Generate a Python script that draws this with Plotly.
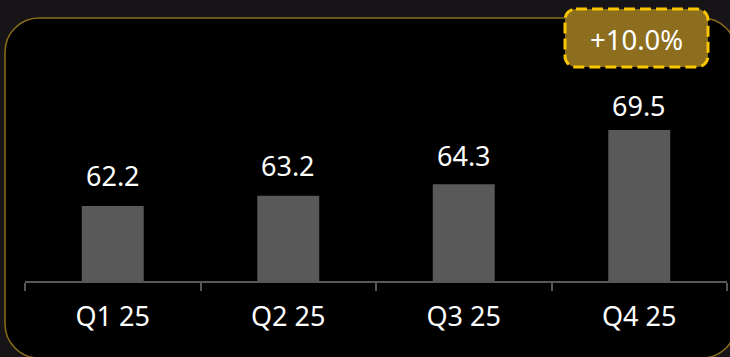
import plotly.graph_objects as go

categories = ["Q1 25", "Q2 25", "Q3 25", "Q4 25"]
values = [62.2, 63.2, 64.3, 69.5]
badge_text = "+10.0%"

W, H = 730, 357
def px(x):
    return x / W
def py(y):
    return 1 - y / H

def rounded_path(x0, y0, x1, y1, r):
    k = 0.5523 * r
    def P(x, y):
        return f"{px(x):.5f},{py(y):.5f}"
    d = (f"M {P(x0 + r, y0)} L {P(x1 - r, y0)} "
         f"C {P(x1 - r + k, y0)} {P(x1, y0 + r - k)} {P(x1, y0 + r)} "
         f"L {P(x1, y1 - r)} "
         f"C {P(x1, y1 - r + k)} {P(x1 - r + k, y1)} {P(x1 - r, y1)} "
         f"L {P(x0 + r, y1)} "
         f"C {P(x0 + r - k, y1)} {P(x0, y1 - r + k)} {P(x0, y1 - r)} "
         f"L {P(x0, y0 + r)} "
         f"C {P(x0, y0 + r - k)} {P(x0 + r - k, y0)} {P(x0 + r, y0)} Z")
    return d

FONT = "Noto Sans, Open Sans, sans-serif"

fig = go.Figure()
fig.add_trace(go.Bar(
    x=categories, y=values,
    marker=dict(color="#595959", line=dict(width=0)),
    hoverinfo="skip",
))
# invisible helper trace so the label axis (y2) exists
fig.add_trace(go.Scatter(
    x=categories, y=values, yaxis="y2", mode="markers",
    marker=dict(opacity=0, size=1), hoverinfo="skip",
))

annotations = []
for c, v in zip(categories, values):
    annotations.append(dict(
        x=c, y=v, xref="x", yref="y2", text=f"{v:.1f}", showarrow=False,
        yanchor="bottom",
        font=dict(family=FONT, size=27, color="#ffffff"),
    ))
annotations.append(dict(
    x=px(636), y=py(39), xref="paper", yref="paper", text=badge_text,
    showarrow=False, xanchor="center", yanchor="middle",
    font=dict(family=FONT, size=27.5, color="#ffffff"),
))

shapes = [
    dict(type="path", xref="paper", yref="paper", layer="below",
         path=rounded_path(5, 18, 736, 358, 34),
         fillcolor="#000000", line=dict(color="#8a6d1c", width=1.5)),
    dict(type="path", xref="paper", yref="paper", layer="above",
         path=rounded_path(565, 9, 708, 67, 11),
         fillcolor="#8c6e1e", line=dict(color="#f7c600", width=3, dash="11px,5px")),
]

y_bottom_px, y_top_px = 281, 18
scale = 10.41
y0 = 55.0
y1 = y0 + (y_bottom_px - y_top_px) / scale

label_scale = 9.6
label_c = 793.1
l0 = (label_c - y_bottom_px) / label_scale
l1 = (label_c - y_top_px) / label_scale

fig.update_layout(
    width=W, height=H,
    margin=dict(l=0, r=0, t=0, b=0, autoexpand=False),
    paper_bgcolor="#161416",
    plot_bgcolor="rgba(0,0,0,0)",
    showlegend=False,
    bargap=0.647,
    xaxis=dict(
        domain=[px(25), px(727)],
        range=[-0.5, 3.5],
        showline=True, linecolor="#5a5558", linewidth=1.5,
        ticks="outside", tickson="boundaries", ticklen=8, tickcolor="#5a5558", tickwidth=1.5,
        ticklabelstandoff=11,
        tickfont=dict(family=FONT, size=27, color="#ffffff"),
        showgrid=False, zeroline=False, fixedrange=True,
    ),
    yaxis=dict(
        domain=[py(y_bottom_px), py(y_top_px)],
        range=[y0, y1], visible=False, showgrid=False, zeroline=False, fixedrange=True,
    ),
    yaxis2=dict(
        overlaying="y", range=[l0, l1], visible=False,
        showgrid=False, zeroline=False, fixedrange=True,
    ),
    shapes=shapes,
    annotations=annotations,
)

fig.write_html("out.html", config={"displayModeBar": False},
               post_script="document.body.style.margin='0';document.body.style.overflow='hidden';")
